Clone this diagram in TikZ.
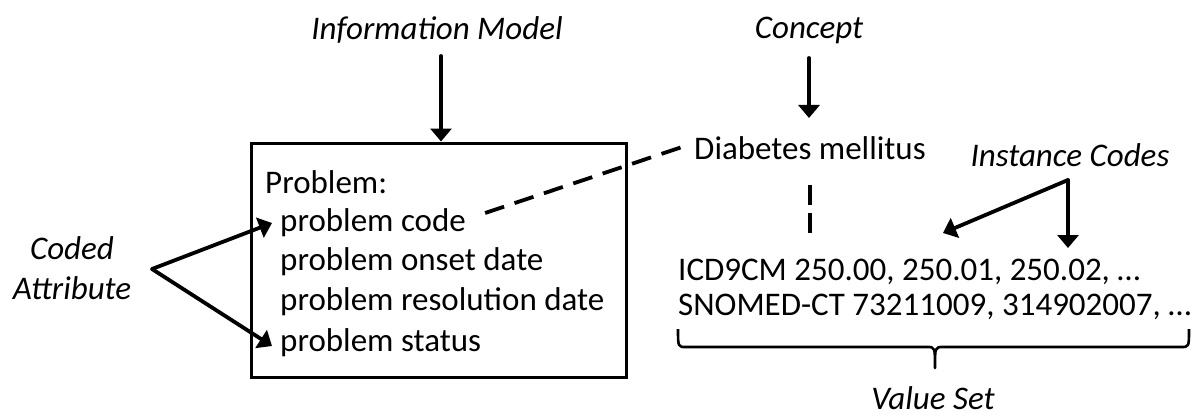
\documentclass[tikz,border=0pt]{standalone}
\usepackage{fontspec}
\setmainfont{Carlito}
\usetikzlibrary{arrows.meta}
\begin{document}
\begin{tikzpicture}[x=1pt,y=-1pt,
  every node/.style={inner sep=0pt, font=\fontsize{33}{40}\selectfont},
  lbl/.style={font=\fontsize{33}{40}\selectfont\itshape},
  arr/.style={line width=3.8pt, line cap=round, -{Triangle[width=21pt,length=13pt]}},
  dsh/.style={line width=3.8pt, dash pattern=on 20pt off 11pt},
  item/.style={anchor=west}]
\useasboundingbox (0,0) rectangle (1198,417);
% box
\node[draw, line width=3pt, minimum width=375pt, minimum height=234pt] (box) at (439,260) {};
\node[item] (prob) at (265,182) {Problem:};
\node[item] (pcode) at (280,223) {problem code};
\node[item] (ponset) at (280,262) {problem onset date};
\node[item] (pres) at (280,302) {problem resolution date};
\node[item] (pstat) at (280,343) {problem status};
% labels
\node[lbl] (im) at (437,30) {Information Model};
\node[lbl, align=center] (coded) at (72,268) {Coded\\Attribute};
\node[lbl] (concept) at (809,30) {Concept};
\node (dm) at (810,148) {Diabetes mellitus};
\node[lbl] (ic) at (1070,155) {Instance Codes};
\node[item] (icd) at (678,272) {ICD9CM 250.00, 250.01, 250.02, \dots};
\node[item] (snomed) at (678,307) {SNOMED-CT 73211009, 314902007, \dots};
\node[lbl] (vs) at (933,398) {Value Set};
% coordinates
\coordinate (cv) at (152,269);
\coordinate (iv) at (1068,180);
\coordinate (it1) at (943,233);
\coordinate (it2) at (1068,248);
% arrows
\draw[arr] ([xshift=4pt,yshift=-26pt]im.center) -- ([xshift=4pt]im.center |- box.north);
\draw[arr] ([yshift=-28pt]concept.center) -- ([yshift=-88pt]concept.center);
\draw[arr] (cv) -- ([xshift=-8pt]pcode.west);
\draw[arr] (cv) -- ([xshift=-8pt,yshift=-3pt]pstat.west);
\draw[arr] (iv) -- (it1);
\draw[arr] (iv) -- (it2);
% dashed
\draw[dsh] ([xshift=19pt,yshift=10pt]pcode.east) -- ([xshift=-12pt,yshift=1pt]dm.west);
\draw[dsh, dash pattern=on 20pt off 8pt] ([yshift=-37pt]dm.center) -- ([yshift=-85pt]dm.center);
% brace
\draw[line width=2.6pt, line join=round] (678,329) .. controls (678,347) .. (686,347) -- (927,347)
  .. controls (935,347) .. (935,368) .. controls (935,347) .. (943,347) -- (1181,347)
  .. controls (1189,347) .. (1189,329);
\end{tikzpicture}
\end{document}
